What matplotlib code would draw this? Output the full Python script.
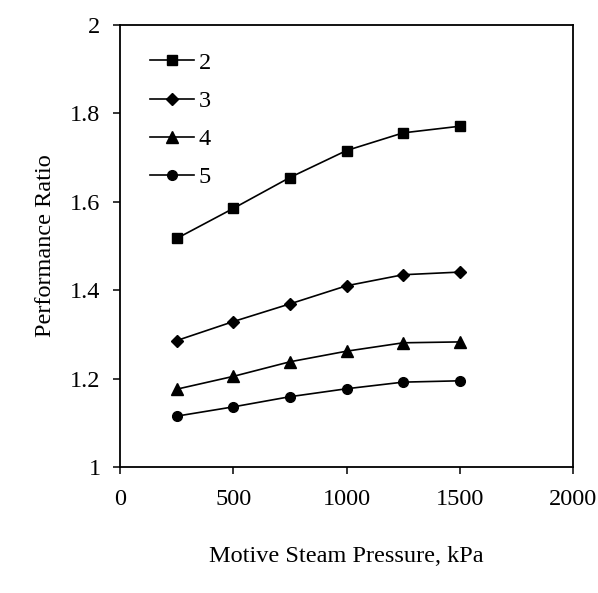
import matplotlib
matplotlib.use("Agg")
import matplotlib.pyplot as plt

# Motive steam pressure (kPa)
pressure = [250, 500, 750, 1000, 1250, 1500]

# Performance ratio per number of effects
series_labels = ["2", "3", "4", "5"]
pr_2 = [1.517, 1.585, 1.655, 1.716, 1.756, 1.771]
pr_3 = [1.286, 1.329, 1.369, 1.410, 1.435, 1.441]
pr_4 = [1.176, 1.205, 1.238, 1.262, 1.281, 1.283]
pr_5 = [1.115, 1.136, 1.159, 1.177, 1.192, 1.195]

x_ticks = [0, 500, 1000, 1500, 2000]
y_ticks = [1, 1.2, 1.4, 1.6, 1.8, 2]
y_tick_labels = ["1", "1.2", "1.4", "1.6", "1.8", "2"]

plt.rcParams["font.family"] = ["Liberation Serif", "DejaVu Serif"]

fig = plt.figure(figsize=(5.98, 5.93), dpi=100)
ax = fig.add_axes([0.2007, 0.2125, 0.7575, 0.7453])

styles = [
    (pr_2, "s", 7.0),
    (pr_3, "D", 6.5),
    (pr_4, "^", 8.0),
    (pr_5, "o", 7.0),
]
for (values, marker, ms), label in zip(styles, series_labels):
    ax.plot(pressure, values, color="black", linewidth=1.2,
            marker=marker, markersize=ms, label=label)

ax.set_xlim(0, 2000)
ax.set_ylim(1, 2)
ax.set_xticks(x_ticks)
ax.set_xticklabels([str(t) for t in x_ticks])
ax.set_yticks(y_ticks)
ax.set_yticklabels(y_tick_labels)
ax.tick_params(direction="out", length=5, width=1.1, labelsize=17.5)
ax.tick_params(axis="y", pad=9)
ax.tick_params(axis="x", pad=11)
for spine in ax.spines.values():
    spine.set_linewidth(1.3)

ax.set_xlabel("Motive Steam Pressure, kPa", fontsize=17.5, labelpad=26)
ax.set_ylabel("Performance Ratio", fontsize=17.5, labelpad=10)

ax.legend(loc="upper left", bbox_to_anchor=(0.066, 0.939), frameon=False,
          fontsize=17.5, handlelength=1.8, handletextpad=0.2,
          labelspacing=0.66, borderaxespad=0, borderpad=0)

fig.savefig("out.png", dpi=100)
